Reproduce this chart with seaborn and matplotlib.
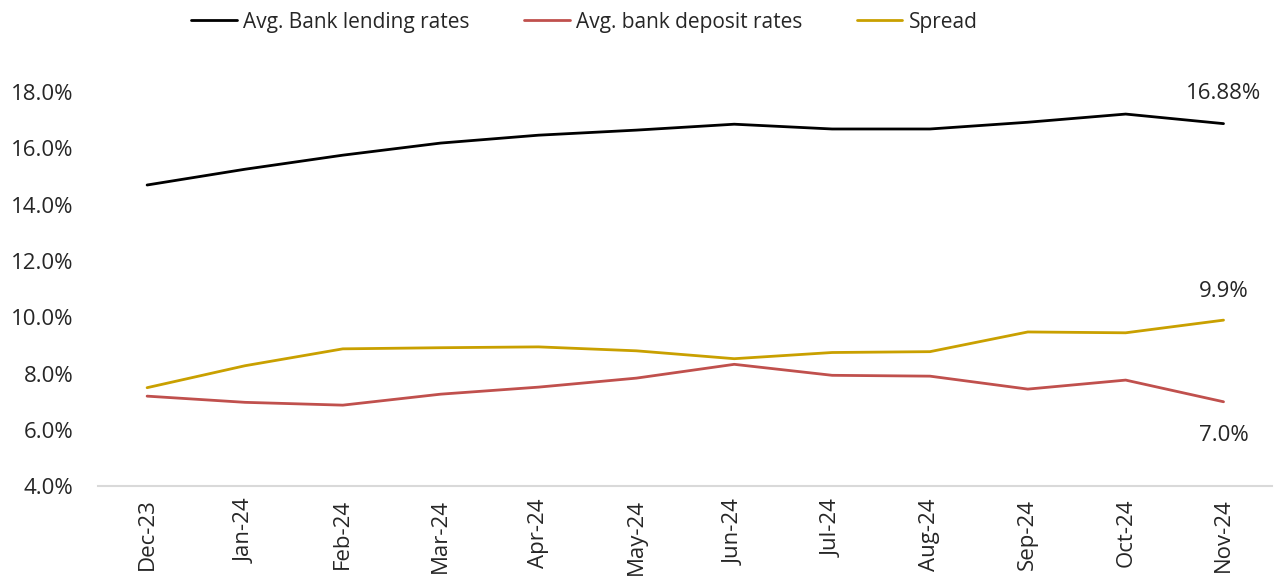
import pandas as pd
import matplotlib.pyplot as plt
import seaborn as sns

sns.set_theme(style="white")
plt.rcParams['font.family'] = ['Open Sans', 'DejaVu Sans']

months = ["Dec-23", "Jan-24", "Feb-24", "Mar-24", "Apr-24", "May-24",
          "Jun-24", "Jul-24", "Aug-24", "Sep-24", "Oct-24", "Nov-24"]
lending = [14.70, 15.26, 15.76, 16.19, 16.47, 16.65, 16.86, 16.69, 16.69, 16.93, 17.22, 16.88]
deposit = [7.20, 6.98, 6.88, 7.27, 7.52, 7.84, 8.33, 7.94, 7.91, 7.45, 7.77, 7.00]
spread = [7.50, 8.28, 8.88, 8.92, 8.95, 8.81, 8.53, 8.75, 8.78, 9.48, 9.45, 9.90]

series_names = ["Avg. Bank lending rates", "Avg. bank deposit rates", "Spread"]
colors = ["#000000", "#C0504D", "#C9A000"]

df = pd.DataFrame({"month": months, series_names[0]: lending,
                   series_names[1]: deposit, series_names[2]: spread})
long = df.melt(id_vars="month", var_name="series", value_name="rate")
long["x"] = long["month"].map({m: i for i, m in enumerate(months)})

fig = plt.figure(figsize=(12.75, 5.83), dpi=100)
ax = fig.add_axes([0.077, 0.166, 0.921, 0.676])

sns.lineplot(data=long, x="x", y="rate", hue="series", hue_order=series_names,
             palette=colors, linewidth=2.0, ax=ax)

ax.set_xlim(-0.5, len(months) - 0.5)
ax.set_ylim(4, 18)
yt = [4, 6, 8, 10, 12, 14, 16, 18]
ax.set_yticks(yt)
ax.set_yticklabels([f"{v:.1f}%" for v in yt], fontsize=16)
ax.set_xticks(range(len(months)))
ax.set_xticklabels(months, rotation=90, fontsize=16)
ax.set_xlabel("")
ax.set_ylabel("")
ax.tick_params(axis="y", length=0, pad=18)
ax.tick_params(axis="x", length=0, pad=9)
for s in ["top", "right", "left"]:
    ax.spines[s].set_visible(False)
ax.spines["bottom"].set_color("#D9D9D9")
ax.spines["bottom"].set_linewidth(1.5)

last = len(months) - 1
ax.annotate(f"{lending[-1]:.2f}%", (last, lending[-1]), xytext=(0, 18),
            textcoords="offset points", ha="center", fontsize=16)
ax.annotate(f"{spread[-1]:.1f}%", (last, spread[-1]), xytext=(0, 17),
            textcoords="offset points", ha="center", fontsize=16)
ax.annotate(f"{deposit[-1]:.1f}%", (last, deposit[-1]), xytext=(0, -28),
            textcoords="offset points", ha="center", fontsize=16)

leg = ax.legend(loc="upper center", bbox_to_anchor=(0.414, 1.252), ncol=3,
                frameon=False, fontsize=15, handlelength=2.2, columnspacing=2.6,
                handletextpad=0.3)

fig.savefig("out.png", dpi=100)
